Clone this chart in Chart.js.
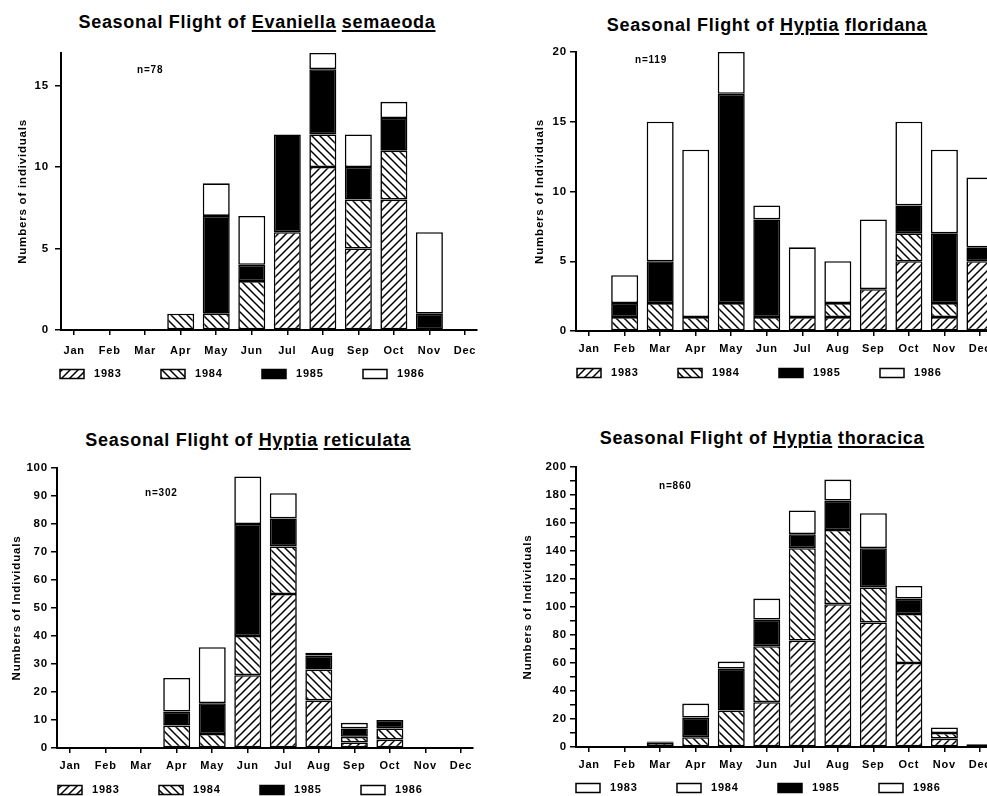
<!DOCTYPE html>
<html lang="en">
<head>
<meta charset="UTF-8">
<title>Seasonal Flight</title>
<script src="https://cdn.jsdelivr.net/npm/chart.js"></script>
<style>
    html, body { margin: 0; padding: 0; background: #fff; }
    body { width: 987px; height: 796px; overflow: hidden; position: relative; }
    .title {
        position: absolute; width: 500px; text-align: center;
        font: bold 18px "Liberation Sans", Arial, sans-serif; letter-spacing: 0.7px;
        color: #000; line-height: 20px; white-space: nowrap;
    }
    .title u { text-decoration-thickness: 1.5px; text-underline-offset: 2px; }
    canvas { position: absolute; }
</style>
</head>
<body>
<div class="title" style="left:7px; top:12px;">Seasonal Flight of <u>Evaniella</u> <u>semaeoda</u></div>
<div class="title" style="left:517px; top:15px;">Seasonal Flight of <u>Hyptia</u> <u>floridana</u></div>
<div class="title" style="left:-2px; top:430px;">Seasonal Flight of <u>Hyptia</u> <u>reticulata</u></div>
<div class="title" style="left:512px; top:428px;">Seasonal Flight of <u>Hyptia</u> <u>thoracica</u></div>

<canvas id="c1" width="490" height="350" style="left:0; top:40px;"></canvas>
<canvas id="c2" width="520" height="350" style="left:490px; top:40px;"></canvas>
<canvas id="c3" width="490" height="341" style="left:0; top:455px;"></canvas>
<canvas id="c4" width="520" height="341" style="left:490px; top:455px;"></canvas>

<script>
    const months = ['Jan', 'Feb', 'Mar', 'Apr', 'May', 'Jun', 'Jul', 'Aug', 'Sep', 'Oct', 'Nov', 'Dec'];
    const years = ['1983', '1984', '1985', '1986'];

    // Evaniella semaeoda (n=78)
    const sem1983 = [0, 0, 0, 0, 0, 0, 6, 10, 5, 8, 0, 0];
    const sem1984 = [0, 0, 0, 1, 1, 3, 0, 2, 3, 3, 0, 0];
    const sem1985 = [0, 0, 0, 0, 6, 1, 6, 4, 2, 2, 1, 0];
    const sem1986 = [0, 0, 0, 0, 2, 3, 0, 1, 2, 1, 5, 0];

    // Hyptia floridana (n=119)
    const flo1983 = [0, 0, 0, 0, 0, 0, 1, 1, 3, 5, 1, 5];
    const flo1984 = [0, 1, 2, 1, 2, 1, 0, 1, 0, 2, 1, 0];
    const flo1985 = [0, 1, 3, 0, 15, 7, 0, 0, 0, 2, 5, 1];
    const flo1986 = [0, 2, 10, 12, 3, 1, 5, 3, 5, 6, 6, 5];

    // Hyptia reticulata (n=302)
    const ret1983 = [0, 0, 0, 0, 0, 26, 55, 17, 2, 3, 0, 0];
    const ret1984 = [0, 0, 0, 8, 5, 14, 17, 11, 2, 4, 0, 0];
    const ret1985 = [0, 0, 0, 5, 11, 40, 10, 5, 3, 3, 0, 0];
    const ret1986 = [0, 0, 0, 12, 20, 17, 9, 1, 2, 0, 0, 0];

    // Hyptia thoracica (n=860)
    const tho1983 = [0, 0, 3, 0, 0, 32, 76, 102, 89, 60, 6, 2];
    const tho1984 = [0, 0, 0, 7, 26, 40, 66, 53, 25, 35, 4, 0];
    const tho1985 = [0, 0, 0, 14, 30, 19, 10, 21, 28, 11, 0, 0];
    const tho1986 = [0, 0, 1, 10, 5, 15, 17, 15, 25, 9, 4, 0];

    const FONT = '"Liberation Sans", Arial, sans-serif';

    function hatch(dir) {
        const s = 8;
        const c = document.createElement('canvas');
        c.width = s; c.height = s;
        const g = c.getContext('2d');
        g.fillStyle = '#fff';
        g.fillRect(0, 0, s, s);
        g.strokeStyle = '#000';
        g.lineWidth = 1.5;
        g.beginPath();
        if (dir === '/') {
            g.moveTo(-1, s + 1); g.lineTo(s + 1, -1);
            g.moveTo(-1, 1); g.lineTo(1, -1);
            g.moveTo(s - 1, s + 1); g.lineTo(s + 1, s - 1);
        } else {
            g.moveTo(-1, -1); g.lineTo(s + 1, s + 1);
            g.moveTo(s - 1, -1); g.lineTo(s + 1, 1);
            g.moveTo(-1, s - 1); g.lineTo(1, s + 1);
        }
        g.stroke();
        return g.createPattern(c, 'repeat');
    }

    const fills = [hatch('/'), hatch('\\'), '#000', '#fff'];

    // the scanned lettering is wide, so space the canvas text out a little
    const spacing = {
        id: 'spacing',
        beforeUpdate(chart) { chart.ctx.letterSpacing = '0.8px'; },
        beforeDraw(chart) { chart.ctx.letterSpacing = '0.8px'; }
    };

    // n= label and legend row drawn under each chart
    const extras = {
        id: 'extras',
        afterDraw(chart, args, o) {
            const {ctx, chartArea} = chart;
            ctx.save();
            ctx.fillStyle = '#000';
            ctx.textBaseline = 'middle';
            ctx.font = 'bold 10px ' + FONT;
            ctx.fillText(o.nText, chartArea.left + o.nX, chartArea.top + o.nY);
            ctx.font = 'bold 11px ' + FONT;
            ctx.lineWidth = 1.5;
            ctx.strokeStyle = '#000';
            chart.data.datasets.forEach((ds, i) => {
                const x = chartArea.left + o.legX + i * 101;
                const y = chartArea.bottom + o.legY;
                ctx.fillStyle = o.legFill ? o.legFill[i] : ds.backgroundColor;
                ctx.fillRect(x, y - 4.5, 24, 9);
                ctx.strokeRect(x, y - 4.5, 24, 9);
                ctx.fillStyle = '#000';
                ctx.fillText(ds.label, x + 34, y);
            });
            ctx.restore();
        }
    };

    function makeChart(id, series, p) {
        new Chart(document.getElementById(id), {
            type: 'bar',
            data: {
                labels: months.map((m, i) => i),
                datasets: series.map((d, i) => ({
                    label: years[i],
                    data: d,
                    backgroundColor: fills[i],
                    borderColor: '#000',
                    borderWidth: 1.6,
                    borderSkipped: false,
                    categoryPercentage: 0.8,
                    barPercentage: 0.95
                }))
            },
            options: {
                responsive: false,
                animation: false,
                devicePixelRatio: 1,
                layout: { padding: { left: p.padL, top: p.padT, right: p.padR, bottom: p.padB } },
                plugins: {
                    legend: { display: false },
                    tooltip: { enabled: false },
                    extras: { nText: p.nText, nX: p.nX, nY: p.nY, legX: p.legX, legY: p.legY, legFill: p.legFill }
                },
                scales: {
                    x: {
                        type: 'linear',
                        stacked: true,
                        offset: false,
                        min: -0.37,
                        max: 11.34,
                        afterFit: (s) => { s.height = 30; },
                        border: { display: true, color: '#000', width: 2 },
                        grid: { display: true, offset: false, drawOnChartArea: false, drawTicks: true, tickLength: 5, color: '#000', lineWidth: 1.5 },
                        ticks: {
                            stepSize: 1,
                            includeBounds: false,
                            autoSkip: false,
                            maxRotation: 0,
                            padding: p.xPad,
                            color: '#000',
                            font: { family: FONT, size: 11, weight: 'bold' },
                            callback: (v) => months[v]
                        }
                    },
                    y: {
                        stacked: true,
                        min: 0,
                        max: p.max,
                        afterFit: (s) => { s.width = p.yW; },
                        border: { display: true, color: '#000', width: 2 },
                        grid: { display: true, drawOnChartArea: false, drawTicks: true, tickLength: 6, color: '#000', lineWidth: 1.5 },
                        title: {
                            display: true,
                            text: p.yTitle,
                            padding: 0,
                            color: '#000',
                            font: { family: FONT, size: 11.5, weight: 'bold' }
                        },
                        ticks: {
                            stepSize: p.step,
                            includeBounds: false,
                            autoSkip: false,
                            padding: p.yPad,
                            color: '#000',
                            font: { family: FONT, size: 11.5, weight: 'bold' },
                            callback: (v) => (v % p.labelEvery === 0 ? v : '')
                        }
                    }
                }
            },
            plugins: [spacing, extras]
        });
    }

    makeChart('c1', [sem1983, sem1984, sem1985, sem1986], {
        max: 17, step: 5, labelEvery: 5, yTitle: 'Numbers of individuals',
        padL: 16, padT: 12, padR: 13, padB: 30, yW: 45, yPad: 6, xPad: 9,
        nText: 'n=78', nX: 76, nY: 17, legX: -1, legY: 44
    });
    makeChart('c2', [flo1983, flo1984, flo1985, flo1986], {
        max: 20, step: 5, labelEvery: 5, yTitle: 'Numbers of Individuals',
        padL: 43, padT: 12, padR: 18, padB: 29, yW: 43, yPad: 3, xPad: 6,
        nText: 'n=119', nX: 59, nY: 8, legX: 1, legY: 42
    });
    makeChart('c3', [ret1983, ret1984, ret1985, ret1986], {
        max: 100, step: 10, labelEvery: 10, yTitle: 'Numbers of Individuals',
        padL: 10, padT: 13, padR: 17, padB: 18, yW: 47, yPad: 3, xPad: 6,
        nText: 'n=302', nX: 88, nY: 25, legX: 1, legY: 42
    });
    makeChart('c4', [tho1983, tho1984, tho1985, tho1986], {
        max: 200, step: 10, labelEvery: 20, yTitle: 'Numbers of Individuals',
        padL: 31, padT: 12, padR: 18, padB: 19, yW: 55, yPad: 3, xPad: 6,
        nText: 'n=860', nX: 83, nY: 19, legX: 0, legY: 41,
        legFill: ['#fff', '#fff', '#000', '#fff']
    });
</script>
</body>
</html>
